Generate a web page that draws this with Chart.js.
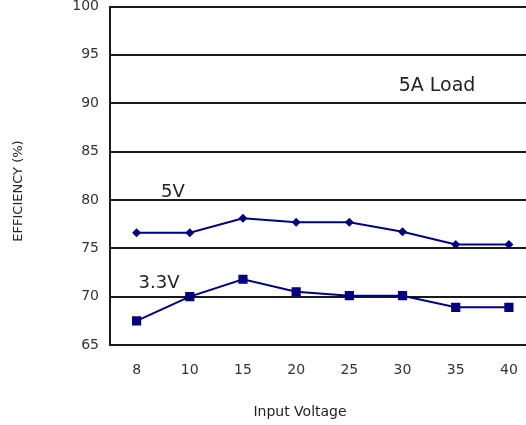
<!DOCTYPE html>
<html>
<head>
<meta charset="utf-8">
<title>Efficiency vs Input Voltage</title>
<script src="https://cdn.jsdelivr.net/npm/chart.js@4/dist/chart.umd.min.js"></script>
<style>
  html, body { margin: 0; padding: 0; background: #fff; overflow: hidden; }
  #wrap { width: 542px; height: 425px; }
</style>
</head>
<body>
<div id="wrap"><canvas id="effChart" width="542" height="425"></canvas></div>
<script>
// Chart data
const voltages = ['8', '10', '15', '20', '25', '30', '35', '40'];
const eff5V = [76.6, 76.6, 78.1, 77.7, 77.7, 76.7, 75.4, 75.4];
const eff3V3 = [67.5, 70.0, 71.8, 70.5, 70.1, 70.1, 68.9, 68.9];
const yMin = 65;
const yMax = 100;
const yStep = 5;

const lineColor = '#000080';
const gridColor = '#1a1a1a';
const fontFamily = '"DejaVu Sans", sans-serif';

// Titles and in-chart labels drawn as text
const chartText = {
    id: 'chartText',
    afterDraw(chart) {
        const ctx = chart.ctx;
        ctx.save();
        ctx.fillStyle = '#222';
        ctx.textAlign = 'center';
        ctx.textBaseline = 'middle';

        ctx.font = '19px ' + fontFamily;
        ctx.fillText('5A Load', 437, 86);

        ctx.font = '18px ' + fontFamily;
        ctx.fillText('5V', 173, 192);
        ctx.fillText('3.3V', 159, 283);

        ctx.font = '14px ' + fontFamily;
        ctx.fillText('Input Voltage', 300, 412);

        ctx.translate(19, 191);
        ctx.rotate(-Math.PI / 2);
        ctx.font = '13px ' + fontFamily;
        ctx.fillText('EFFICIENCY (%)', 0, 0);
        ctx.restore();
    }
};

const ctx = document.getElementById('effChart').getContext('2d');

const effChart = new Chart(ctx, {
    type: 'line',
    data: {
        labels: voltages,
        datasets: [
            {
                label: '5V',
                data: eff5V,
                borderColor: lineColor,
                backgroundColor: lineColor,
                borderWidth: 2,
                pointStyle: 'rectRot',
                pointRadius: 4.5,
                pointBorderWidth: 0,
                tension: 0
            },
            {
                label: '3.3V',
                data: eff3V3,
                borderColor: lineColor,
                backgroundColor: lineColor,
                borderWidth: 2,
                pointStyle: 'rect',
                pointRadius: 6.5,
                pointBorderWidth: 0,
                tension: 0
            }
        ]
    },
    options: {
        responsive: false,
        animation: false,
        layout: {
            padding: { top: 6, right: 1, left: 0, bottom: 0 }
        },
        plugins: {
            legend: { display: false },
            tooltip: { enabled: false }
        },
        scales: {
            x: {
                offset: true,
                afterFit: function(scale) {
                    scale.height = 80;
                    scale.paddingLeft = 0;
                    scale.paddingRight = 0;
                },
                grid: { display: false, drawTicks: false },
                border: { display: true, color: gridColor, width: 2 },
                ticks: {
                    autoSkip: false,
                    maxRotation: 0,
                    padding: 18,
                    color: '#333',
                    font: { family: fontFamily, size: 14, lineHeight: 1 }
                }
            },
            y: {
                min: yMin,
                max: yMax,
                afterFit: function(scale) {
                    scale.width = 110;
                    scale.paddingTop = 0;
                    scale.paddingBottom = 0;
                },
                grid: { color: gridColor, lineWidth: 2, drawTicks: false },
                border: { display: true, color: gridColor, width: 2 },
                ticks: {
                    stepSize: yStep,
                    padding: 11,
                    color: '#333',
                    font: { family: fontFamily, size: 14 }
                }
            }
        }
    },
    plugins: [chartText]
});
</script>
</body>
</html>
